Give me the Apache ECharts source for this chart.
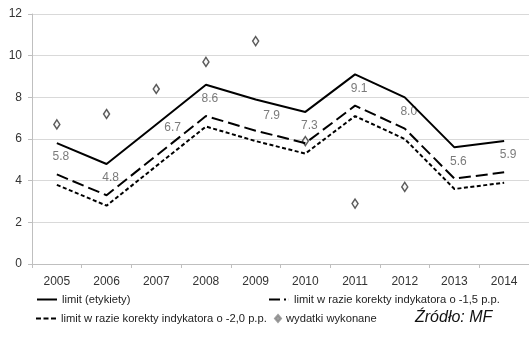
<!DOCTYPE html>
<html><head><meta charset="utf-8">
<script src="https://cdn.jsdelivr.net/npm/echarts@6/dist/echarts.min.js"></script>
<style>html,body{margin:0;padding:0;background:#fff}#c{width:529px;height:340px}</style>
</head><body><div id="c"></div>
<script>
const years = ['2005','2006','2007','2008','2009','2010','2011','2012','2013','2014'];
const limit = [5.8,4.8,6.7,8.6,7.9,7.3,9.1,8.0,5.6,5.9];
const limit15 = [4.3,3.3,5.2,7.1,6.4,5.8,7.6,6.5,4.1,4.4];
const limit20 = [3.8,2.8,4.7,6.6,5.9,5.3,7.1,6.0,3.6,3.9];
const spent = [6.7,7.2,8.4,9.7,10.7,5.9,2.9,3.7,null,null];
const yTicks = [0,2,4,6,8,10,12];
const names = ['limit (etykiety)','limit w razie korekty indykatora o -1,5 p.p.','limit w razie korekty indykatora o -2,0 p.p.','wydatki wykonane'];

// label placement styles (per category index)
const labelStyleOverrides = {2:{position:'right',offset:[0,3]},4:{position:'bottom',offset:[16,2]}};

const FONT = "'Liberation Sans Narrow','Liberation Sans',sans-serif";
const chart = echarts.init(document.getElementById('c'), null, {renderer:'canvas'});
const legendBase = {itemWidth:20, itemHeight:2.5, itemGap:3, textStyle:{fontFamily:FONT,fontSize:11.2,color:'#222'}, selectedMode:false, orient:'horizontal', padding:0};
const solidIcon = 'path://M0,0h20v2h-20z';
const dashIcon = 'path://M0,0h11v2h-11z M15,0h2v2h-2z M19.9,0h0.1v2h-0.1z';
const dotIcon = 'path://M0,0h5v2h-5z M7.5,0h5v2h-5z M15,0h5v2h-5z';
const labelData = limit.map((v,i)=>{
  const o = labelStyleOverrides[i];
  return o ? {value:v,label:Object.assign({},o)} : v;
});
chart.setOption({
  animation:false,
  textStyle:{fontFamily:FONT},
  grid:{left:32,right:-2,top:14,bottom:76,containLabel:false},
  xAxis:{type:'category',data:years,boundaryGap:true,
    axisLine:{lineStyle:{color:'#bfbfbf',width:1}},
    axisTick:{show:true,alignWithLabel:false,lineStyle:{color:'#bfbfbf'},length:4},
    axisLabel:{color:'#333',fontSize:12,fontFamily:FONT,margin:12}},
  yAxis:{type:'value',min:0,max:12,interval:2,
    axisLine:{show:true,lineStyle:{color:'#bfbfbf'}},
    axisTick:{show:true,length:4,lineStyle:{color:'#bfbfbf'}},
    splitLine:{lineStyle:{color:'#d9d9d9',width:1}},
    axisLabel:{color:'#333',fontSize:12,fontFamily:FONT,margin:10,
      formatter:v=>yTicks.includes(v)?String(v):''}},
  legend:[
    Object.assign({},legendBase,{data:[{name:names[0],icon:solidIcon,itemStyle:{color:'#000'}}],left:37,top:294}),
    Object.assign({},legendBase,{data:[{name:names[1],icon:dashIcon,itemStyle:{color:'#000'}}],left:269,top:294,itemGap:1}),
    Object.assign({},legendBase,{data:[{name:names[2],icon:dotIcon,itemStyle:{color:'#000'}}],left:36,top:313,itemGap:4}),
    Object.assign({},legendBase,{data:[{name:names[3],icon:'diamond',itemStyle:{color:'#8a8a8a',borderColor:'#8a8a8a'}}],left:274,top:313,itemWidth:6,itemHeight:7,itemGap:14})
  ],
  series:[
    {name:names[0],type:'line',data:limit,symbol:'none',
      lineStyle:{color:'#000',width:2},itemStyle:{color:'#000'}},
    {name:names[1],type:'line',data:limit15,symbol:'none',
      lineStyle:{color:'#000',width:2,type:[12,5]},itemStyle:{color:'#000'}},
    {name:names[2],type:'line',data:limit20,symbol:'none',
      lineStyle:{color:'#000',width:2,type:[4,2.5]},itemStyle:{color:'#000'}},
    {name:names[3],type:'scatter',data:spent,symbol:'diamond',symbolSize:[6,9],
      itemStyle:{color:'#f7f7f7',borderColor:'#333',borderWidth:1.5}},
    {name:'labels',type:'scatter',data:labelData,symbolSize:0,silent:true,
      itemStyle:{color:'transparent'},
      label:{show:true,position:'bottom',distance:8,offset:[4,0],color:'#595959',fontSize:12,fontFamily:FONT,
        formatter:p=>Number(p.value).toFixed(1)}}
  ],
  graphic:[{type:'text',left:415,top:310,style:{text:'Źródło: MF',font:"italic 16px "+FONT,fill:'#111'}}]
});
</script></body></html>
